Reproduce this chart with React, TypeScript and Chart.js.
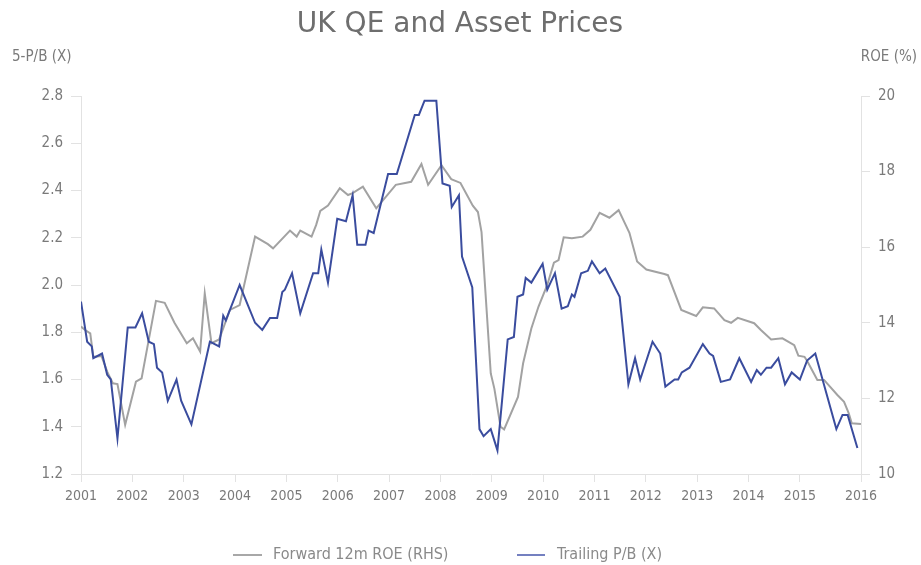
import React, { useEffect, useRef } from "react";
import { Chart, registerables } from "chart.js";

Chart.register(...registerables);

const TITLE = "UK QE and Asset Prices";
const LEFT_AXIS_TITLE = "5-P/B (X)";
const RIGHT_AXIS_TITLE = "ROE (%)";
const ROE_LABEL = "Forward 12m ROE (RHS)";
const PB_LABEL = "Trailing P/B (X)";

const xTickYears = [2001, 2002, 2003, 2004, 2005, 2006, 2007, 2008, 2009, 2010, 2011, 2012, 2013, 2014, 2015];
const xEndYear = 2016.19;
const xEndLabel = "2016";
const leftTicks = [1.2, 1.4, 1.6, 1.8, 2.0, 2.2, 2.4, 2.6, 2.8];
const rightTicks = [10, 12, 14, 16, 18, 20];

// Trailing P/B (X), left axis
const pbYears = [
  2001.0, 2001.12, 2001.21, 2001.24, 2001.41, 2001.51, 2001.58, 2001.71, 2001.91, 2002.06,
  2002.19, 2002.32, 2002.42, 2002.48, 2002.58, 2002.69, 2002.86, 2002.95, 2003.15, 2003.51,
  2003.69, 2003.77, 2003.82, 2004.09, 2004.39, 2004.53, 2004.68, 2004.82, 2004.92, 2004.97,
  2005.11, 2005.27, 2005.52, 2005.62, 2005.68, 2005.81, 2005.99, 2006.16, 2006.29, 2006.38,
  2006.54, 2006.6, 2006.7, 2006.98, 2007.15, 2007.5, 2007.58, 2007.69, 2007.92, 2008.04,
  2008.18, 2008.22, 2008.36, 2008.42, 2008.62, 2008.76, 2008.84, 2008.98, 2009.11, 2009.31,
  2009.43, 2009.5, 2009.61, 2009.66, 2009.77, 2009.99, 2010.08, 2010.23, 2010.36, 2010.48,
  2010.56, 2010.61, 2010.74, 2010.87, 2010.95, 2011.1, 2011.21, 2011.49, 2011.66, 2011.79,
  2011.89, 2012.13, 2012.28, 2012.38, 2012.56, 2012.63, 2012.7, 2012.85, 2013.11, 2013.24,
  2013.31, 2013.46, 2013.64, 2013.82, 2014.05, 2014.16, 2014.24, 2014.35, 2014.44, 2014.58,
  2014.71, 2014.84, 2015.0, 2015.14, 2015.3, 2015.71, 2015.83, 2015.93, 2016.12,
];
const pbValues = [
  1.93, 1.76, 1.74, 1.69, 1.71, 1.62, 1.6, 1.35, 1.82, 1.82,
  1.88, 1.76, 1.75, 1.65, 1.63, 1.51, 1.6, 1.51, 1.41, 1.76,
  1.74, 1.87, 1.85, 2.0, 1.84, 1.81, 1.86, 1.86, 1.97, 1.98,
  2.05, 1.88, 2.05, 2.05, 2.15, 2.01, 2.28, 2.27, 2.38, 2.17,
  2.17, 2.23, 2.22, 2.47, 2.47, 2.72, 2.72, 2.78, 2.78, 2.43,
  2.42, 2.33, 2.38, 2.12, 1.99, 1.39, 1.36, 1.39, 1.3, 1.77,
  1.78, 1.95, 1.96, 2.03, 2.01, 2.09, 1.98, 2.05, 1.9, 1.91,
  1.96, 1.95, 2.05, 2.06, 2.1, 2.05, 2.07, 1.95, 1.58, 1.69,
  1.6, 1.76, 1.71, 1.57, 1.6, 1.6, 1.63, 1.65, 1.75, 1.71,
  1.7, 1.59, 1.6, 1.69, 1.59, 1.64, 1.62, 1.65, 1.65, 1.69,
  1.58, 1.63, 1.6, 1.68, 1.71, 1.39, 1.45, 1.45, 1.31,
];

// Forward 12m ROE (%), right axis
const roeYears = [
  2001.0, 2001.08, 2001.18, 2001.24, 2001.4, 2001.51, 2001.62, 2001.71, 2001.86, 2002.07,
  2002.18, 2002.46, 2002.63, 2002.82, 2003.06, 2003.18, 2003.32, 2003.41, 2003.54, 2003.69,
  2003.9, 2004.09, 2004.39, 2004.64, 2004.74, 2005.07, 2005.2, 2005.27, 2005.49, 2005.58,
  2005.66, 2005.81, 2006.04, 2006.2, 2006.29, 2006.49, 2006.75, 2007.13, 2007.43, 2007.63,
  2007.76, 2008.02, 2008.21, 2008.39, 2008.63, 2008.73, 2008.8, 2008.98, 2009.05, 2009.17,
  2009.24, 2009.51, 2009.61, 2009.77, 2009.91, 2010.08, 2010.21, 2010.3, 2010.4, 2010.56,
  2010.77, 2010.92, 2011.1, 2011.29, 2011.47, 2011.68, 2011.83, 2012.01, 2012.36, 2012.43,
  2012.69, 2012.98, 2013.11, 2013.33, 2013.53, 2013.66, 2013.79, 2014.11, 2014.24, 2014.44,
  2014.66, 2014.89, 2014.97, 2015.09, 2015.15, 2015.34, 2015.47, 2015.73, 2015.86, 2015.95,
  2016.01, 2016.19,
];
const roeValues = [
  13.9, 13.81, 13.72, 13.1, 13.12, 12.71, 12.4, 12.38, 11.3, 12.44,
  12.53, 14.58, 14.53, 14.0, 13.46, 13.59, 13.24, 14.78, 13.46, 13.56,
  14.34, 14.47, 16.28, 16.08, 15.97, 16.44, 16.28, 16.44, 16.28, 16.59,
  16.96, 17.1, 17.56, 17.38, 17.43, 17.6, 17.03, 17.65, 17.73, 18.2,
  17.65, 18.17, 17.8, 17.7, 17.1, 16.93, 16.4, 12.66, 12.26, 11.25,
  11.18, 12.04, 12.93, 13.85, 14.43, 15.0, 15.59, 15.66, 16.26, 16.24,
  16.28, 16.46, 16.91, 16.78, 16.98, 16.38, 15.62, 15.41, 15.29, 15.26,
  14.34, 14.18, 14.41, 14.38, 14.07, 14.0, 14.13, 13.99, 13.81, 13.56,
  13.59, 13.41, 13.13, 13.1, 12.97, 12.49, 12.49, 12.09, 11.91, 11.61,
  11.34, 11.32,
];

const BLUE = "#3a4c9e";
const GRAY = "#a2a2a2";
const TEXT = "#7a7a7a";
const AXIS = "#e2e2e2";
const FONT = "'DejaVu Sans Condensed', 'DejaVu Sans', sans-serif";
const FONT_WIDE = "'DejaVu Sans', sans-serif";

const textPlugin = {
  id: "textPlugin",
  afterDraw(chart: any) {
    const ctx = chart.ctx;
    ctx.save();
    ctx.textBaseline = "middle";
    // title
    ctx.fillStyle = "#6e6e6e";
    ctx.font = `28px ${FONT_WIDE}`;
    ctx.textAlign = "center";
    ctx.fillText(TITLE, 460, 25);
    // axis titles
    ctx.fillStyle = TEXT;
    ctx.font = `15px ${FONT}`;
    ctx.textAlign = "left";
    ctx.fillText(LEFT_AXIS_TITLE, 12, 57);
    ctx.textAlign = "right";
    ctx.fillText(RIGHT_AXIS_TITLE, 917, 57);
    // legend
    const ly = 555;
    ctx.lineWidth = 2;
    ctx.strokeStyle = "#a8a8a8";
    ctx.beginPath();
    ctx.moveTo(233, ly);
    ctx.lineTo(262, ly);
    ctx.stroke();
    ctx.strokeStyle = "#7480c0";
    ctx.beginPath();
    ctx.moveTo(517, ly);
    ctx.lineTo(545, ly);
    ctx.stroke();
    ctx.fillStyle = "#8a8a8a";
    ctx.font = `16px ${FONT}`;
    ctx.textAlign = "left";
    ctx.fillText(ROE_LABEL, 273, ly);
    ctx.fillText(PB_LABEL, 557, ly);
    ctx.restore();
  },
};

export default function App() {
  const ref = useRef<HTMLCanvasElement | null>(null);

  useEffect(() => {
    const canvas = ref.current;
    if (!canvas) return;
    const pbData = pbYears.map((x, i) => ({ x, y: pbValues[i] }));
    const roeData = roeYears.map((x, i) => ({ x, y: roeValues[i] }));

    const chart = new Chart(canvas, {
      type: "line",
      data: {
        datasets: [
          {
            label: ROE_LABEL,
            data: roeData,
            yAxisID: "yR",
            borderColor: GRAY,
            borderWidth: 2,
            pointRadius: 0,
            tension: 0,
            fill: false,
            order: 1,
          },
          {
            label: PB_LABEL,
            data: pbData,
            yAxisID: "yL",
            borderColor: BLUE,
            borderWidth: 2,
            pointRadius: 0,
            tension: 0,
            fill: false,
            order: 0,
          },
        ],
      },
      options: {
        responsive: false,
        animation: false,
        layout: { padding: { top: 96, bottom: 61, left: 0, right: 0 } },
        plugins: {
          legend: { display: false },
          title: { display: false },
          tooltip: { enabled: false },
        },
        scales: {
          x: {
            type: "linear",
            min: 2001,
            max: xEndYear,
            afterBuildTicks: (scale: any) => {
              scale.ticks = [...xTickYears, xEndYear].map((v) => ({ value: v }));
            },
            afterFit: (scale: any) => {
              scale.height = 30;
            },
            ticks: {
              autoSkip: false,
              maxRotation: 0,
              padding: 6,
              color: TEXT,
              font: { size: 14, family: FONT },
              callback: (v: any) => (v >= 2016 ? xEndLabel : String(v)),
            },
            grid: { drawOnChartArea: false, drawTicks: true, tickLength: 8, color: AXIS },
            border: { display: true, color: AXIS },
          },
          yL: {
            type: "linear",
            position: "left",
            min: 1.2,
            max: 2.8,
            afterBuildTicks: (scale: any) => {
              scale.ticks = leftTicks.map((v) => ({ value: v }));
            },
            afterFit: (scale: any) => {
              scale.width = 81;
            },
            ticks: {
              padding: 8,
              color: TEXT,
              font: { size: 15, family: FONT },
              callback: (v: any) => Number(v).toFixed(1),
            },
            grid: { drawOnChartArea: false, drawTicks: true, tickLength: 10, color: AXIS },
            border: { display: true, color: AXIS },
          },
          yR: {
            type: "linear",
            position: "right",
            min: 10,
            max: 20,
            afterBuildTicks: (scale: any) => {
              scale.ticks = rightTicks.map((v) => ({ value: v }));
            },
            afterFit: (scale: any) => {
              scale.width = 60;
            },
            ticks: {
              padding: 8,
              color: TEXT,
              font: { size: 15, family: FONT },
              callback: (v: any) => String(v),
            },
            grid: { drawOnChartArea: false, drawTicks: true, tickLength: 9, color: AXIS },
            border: { display: true, color: AXIS },
          },
        },
      },
      plugins: [textPlugin],
    });
    return () => chart.destroy();
  }, []);

  return (
    <div style={{ position: "absolute", left: 0, top: 0, width: 921, height: 565, background: "#fff" }}>
      <canvas ref={ref} width={921} height={565} style={{ display: "block" }} />
    </div>
  );
}
